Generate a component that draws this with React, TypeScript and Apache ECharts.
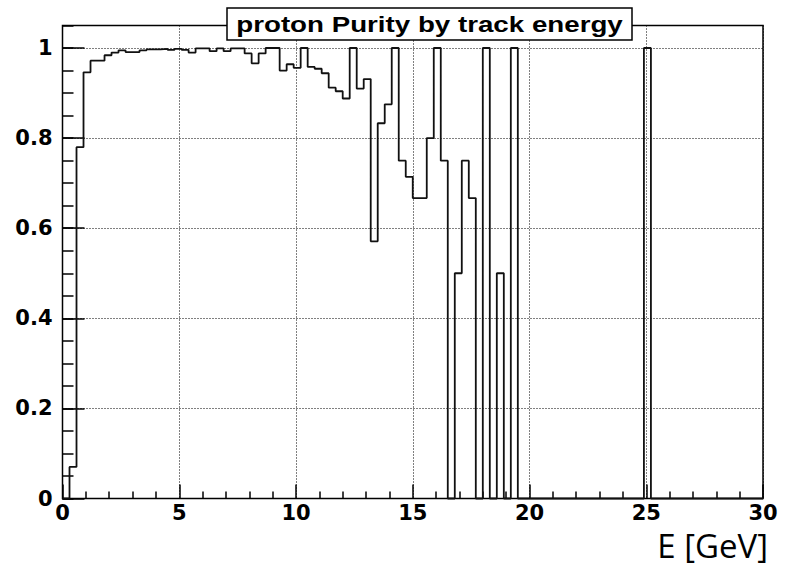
import React, { useEffect, useRef } from "react";
import * as echarts from "echarts";

const TITLE = "proton Purity by track energy";
const X_TITLE = "E [GeV]";
const X_MIN = 0;
const X_MAX = 30;
const N_BINS = 100;
const Y_MIN = 0;
const Y_MAX = 1.05;

// purity per bin (100 bins of 0.3 GeV from 0 to 30 GeV)
const purity: number[] = [
  0, 0.07, 0.78, 0.946, 0.972, 0.972, 0.984, 0.99, 0.995, 0.991,
  0.991, 0.995, 0.997, 0.997, 0.998, 0.996, 0.998, 0.996, 0.99, 0.999,
  0.999, 0.993, 0.999, 0.993, 0.999, 0.999, 0.988, 0.966, 0.988, 1.0,
  1.0, 0.95, 0.964, 0.956, 1.0, 0.958, 0.954, 0.944, 0.912, 0.904,
  0.888, 1.0, 0.91, 0.931, 0.571, 0.833, 0.875, 1.0, 0.75, 0.714,
  0.667, 0.667, 0.8, 1.0, 0.75, 0, 0.5, 0.75, 0.667, 0,
  1.0, 0, 0.5, 0, 1.0, 0, 0, 0, 0, 0,
  0, 0, 0, 0, 0, 0, 0, 0, 0, 0,
  0, 0, 0, 1.0, 0, 0, 0, 0, 0, 0,
  0, 0, 0, 0, 0, 0, 0, 0, 0, 0,
];

const xTickLabels = ["0", "5", "10", "15", "20", "25", "30"];
const yTickLabels = ["0", "0.2", "0.4", "0.6", "0.8", "1"];

const TITLE_FONT = "'Liberation Sans', Arial, Helvetica, sans-serif";
const LABEL_FONT = "'DejaVu Sans', 'Liberation Sans', sans-serif";

export default function App() {
  const ref = useRef<HTMLDivElement>(null);

  useEffect(() => {
    document.body.style.margin = "0";
    if (!ref.current) return;
    const chart = echarts.init(ref.current, undefined, { renderer: "svg" });

    const binW = (X_MAX - X_MIN) / N_BINS;
    const pts: number[][] = purity.map((v, i) => [X_MIN + i * binW, v]);
    pts.push([X_MAX, purity[purity.length - 1]]);

    const dotted = { color: "#000", width: 1, type: [1, 2] as number[] };
    const tickStyle = { color: "#000", width: 1.5 };

    chart.setOption({
      animation: false,
      backgroundColor: "#fff",
      grid: {
        left: 62.5,
        right: 37,
        top: 25.5,
        bottom: 67.5,
        show: true,
        borderColor: "#000",
        borderWidth: 1.5,
        backgroundColor: "transparent",
        outerBoundsMode: "none",
        containLabel: false,
      },
      xAxis: {
        type: "value",
        min: X_MIN,
        max: X_MAX,
        interval: 5,
        axisLine: { show: false },
        axisTick: { show: true, inside: true, length: 14, lineStyle: tickStyle },
        minorTick: { show: true, splitNumber: 5, length: 7, lineStyle: tickStyle },
        splitLine: { show: true, lineStyle: dotted },
        axisLabel: {
          margin: 4,
          color: "#000",
          fontFamily: LABEL_FONT,
          fontWeight: "bold",
          fontSize: 21,
          formatter: (v: number) => {
            const idx = Math.round(v / 5);
            return Math.abs(v - idx * 5) < 1e-6 ? xTickLabels[idx] ?? "" : "";
          },
        },
      },
      yAxis: [
        {
          type: "value",
          position: "left",
          offset: 0,
          min: Y_MIN,
          max: Y_MAX,
          interval: 0.2,
          axisLine: { show: false },
          axisTick: { show: true, inside: true, length: 22, lineStyle: tickStyle },
          splitLine: { show: true, lineStyle: dotted },
          axisLabel: {
            margin: 10,
            color: "#000",
            fontFamily: LABEL_FONT,
            fontWeight: "bold",
            fontSize: 21,
            showMaxLabel: false,
            formatter: (v: number) => {
              const idx = Math.round(v / 0.2);
              return Math.abs(v - idx * 0.2) < 1e-6 ? yTickLabels[idx] ?? "" : "";
            },
          },
        },
        {
          type: "value",
          position: "left",
          offset: 0,
          min: Y_MIN,
          max: Y_MAX,
          interval: 0.05,
          axisLine: { show: false },
          axisTick: { show: true, inside: true, length: 11, lineStyle: tickStyle },
          splitLine: { show: false },
          axisLabel: { show: false },
        },
      ],
      series: [
        {
          type: "line",
          step: "end",
          data: pts,
          xAxisIndex: 0,
          yAxisIndex: 0,
          showSymbol: false,
          symbol: "none",
          clip: false,
          lineStyle: { color: "#111", width: 1.8 },
          z: 5,
        },
      ],
      graphic: [
        {
          type: "rect",
          z: 100,
          shape: { x: 227, y: 8, width: 405, height: 32 },
          style: { fill: "#fff", stroke: "#000", lineWidth: 1.5 },
        },
        {
          type: "text",
          z: 101,
          x: 429.5,
          y: 24.5,
          scaleX: 1.26,
          style: {
            text: TITLE,
            fill: "#000",
            font: `bold 22px ${TITLE_FONT}`,
            align: "center",
            verticalAlign: "middle",
          },
        },
        {
          type: "text",
          z: 101,
          x: 768,
          y: 545,
          style: {
            text: X_TITLE,
            fill: "#000",
            font: `33px 'Open Sans', 'Noto Sans', sans-serif`,
            lineHeight: 34,
            align: "right",
            verticalAlign: "middle",
          },
        },
      ],
    });

    return () => chart.dispose();
  }, []);

  return <div ref={ref} style={{ width: 800, height: 566 }} />;
}
